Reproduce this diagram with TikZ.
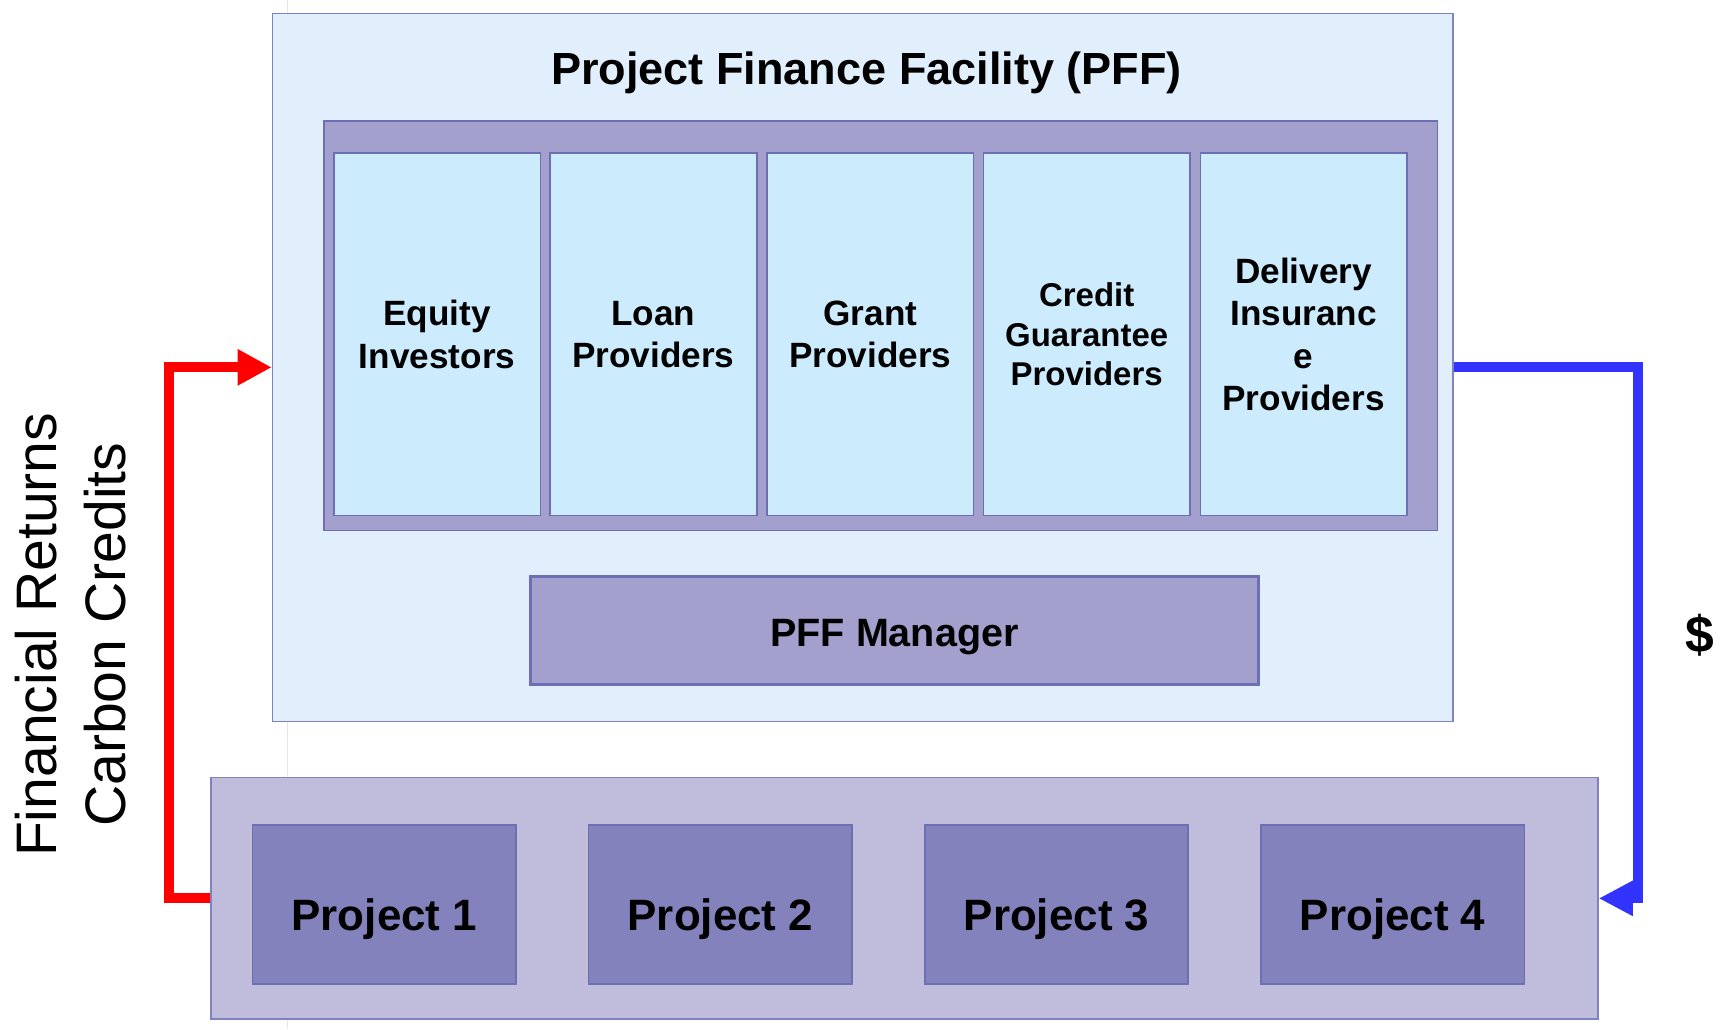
\documentclass[tikz,border=0pt]{standalone}
\usepackage{fontspec}
\setmainfont{Liberation Sans}
\usetikzlibrary{arrows.meta}
\definecolor{pffbg}{HTML}{E1EEFC}
\definecolor{panelfill}{HTML}{A3A0CE}
\definecolor{memfill}{HTML}{CCEBFD}
\definecolor{projpanelfill}{HTML}{C0BDDC}
\definecolor{projfill}{HTML}{8482BC}
\definecolor{bordc}{HTML}{6E6EB5}
\definecolor{lightbord}{HTML}{8080C4}
\definecolor{redarr}{HTML}{FF0000}
\definecolor{bluearr}{HTML}{3333FF}
\definecolor{faintline}{HTML}{E6E6E6}
\begin{document}
\begin{tikzpicture}[x=1pt,y=-1pt,
  basebox/.style={draw=bordc, line width=1.5pt, inner sep=0pt},
  member/.style={basebox, fill=memfill, minimum width=188pt, minimum height=330pt, align=center,
    font=\bfseries\fontsize{32}{38.5}\selectfont},
  project/.style={basebox, fill=projfill, minimum width=240pt, minimum height=145pt,
    font=\bfseries\fontsize{40}{48}\selectfont, text height=48pt, text depth=0pt},
  flowline/.style={line width=9pt, line join=miter}
]
\useasboundingbox (0,0) rectangle (1568,937);
% faint page guide line
\coordinate (guidetop) at (262,0);
\coordinate (guidebot) at (262,937);
\draw[faintline, line width=1pt] (guidetop) -- (guidebot);

% PFF outer box
\node[draw=lightbord, line width=1.2pt, fill=pffbg, minimum width=1075pt, minimum height=645pt, inner sep=0pt]
  (pff) at (785.5,334.5) {};
\node[font=\bfseries\fontsize{41}{49}\selectfont, inner sep=0pt] (title) at (789,66) {Project Finance Facility (PFF)};

% members panel
\node[basebox, fill=panelfill, minimum width=1014pt, minimum height=373pt] (panel) at (802,296.5) {};
\node[member] (equity) at (398,304.5) {Equity\\Investors};
\node[member] (loan) at (595,304.5) {Loan\\Providers};
\node[member] (grant) at (792.5,304.5) {Grant\\Providers};
\node[member, font=\bfseries\fontsize{30}{36}\selectfont] (credit) at (989.5,304.5) {Credit\\Guarantee\\Providers};
\node[member] (delivery) at (1187,304.5) {Delivery\\Insuranc\\e\\Providers};

% manager
\node[draw=bordc, line width=3pt, fill=panelfill, minimum width=663pt, minimum height=98pt, inner sep=0pt,
  font=\bfseries\fontsize{36}{43}\selectfont, text height=30pt, text depth=0pt] (manager) at (814.5,574) {PFF Manager};

% projects panel
\node[draw=lightbord, line width=1.5pt, fill=projpanelfill, minimum width=1263pt, minimum height=220pt, inner sep=0pt]
  (projpanel) at (823.5,818) {};
\node[project] (p1) at (350,823.5) {Project 1};
\node[project] (p2) at (656,823.5) {Project 2};
\node[project] (p3) at (962,823.5) {Project 3};
\node[project] (p4) at (1268,823.5) {Project 4};

% arrows
\draw[flowline, redarr, -{Triangle[length=31pt,width=31pt]}]
  (projpanel.west) -- ++(-37,0) |- (pff.west);
\draw[flowline, bluearr, -{Triangle[length=31pt,width=30pt]}]
  (pff.east) -- ++(168,0) |- (projpanel.east);

% labels
\node[rotate=90, align=center, font=\fontsize{52}{62.5}\selectfont, inner sep=0pt] (returns) at (64,578)
  {Financial Returns\\Carbon Credits};
\node[font=\bfseries\fontsize{47}{56}\selectfont, inner sep=0pt] (dollar) at (1548,578) {\$};
\end{tikzpicture}
\end{document}
